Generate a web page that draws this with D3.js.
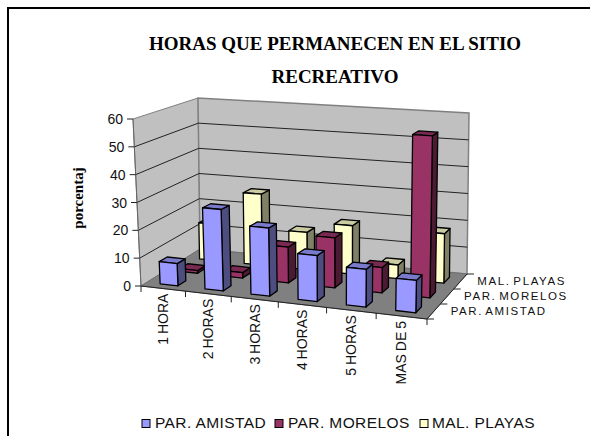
<!DOCTYPE html>
<html><head><meta charset="utf-8">
<style>html,body{margin:0;padding:0;background:#fff}svg{display:block}</style>
<script src="https://cdn.jsdelivr.net/npm/d3@7/dist/d3.min.js"></script>
</head><body><div id="c"></div>
<script>
const categories=["1 HORA","2 HORAS","3 HORAS","4 HORAS","5 HORAS","MAS DE 5"];
const seriesNames=["PAR. AMISTAD","PAR. MORELOS","MAL. PLAYAS"];
const amistad=[8,29,24,16,13,11];
const morelos=[1,2,13,18,9,57];
const playas=[14,27,14,18,5,18];
const seriesValues=[amistad,morelos,playas];
const yTicks=[0,10,20,30,40,50,60];
const palette=[
 {face:"#9999ff",side:"#4d4d80",top:"#7a7acc"},
 {face:"#993366",side:"#4d1a33",top:"#7a2952"},
 {face:"#ffffcc",side:"#808066",top:"#cccca3"}];
const W=590,H=436;
const svg=d3.select("#c").append("svg").attr("width",W).attr("height",H);
const FONT="'Liberation Sans',Arial,sans-serif",SERIF="'Liberation Serif','Times New Roman',serif";
const F={fl:[141,286],bl:[200,249],br:[467,274],fr:[427,319]};
const T={fl:[133,119],bl:[198,98],br:[469,113],fr:[431,140]};
const bil=(Q,u,v)=>[0,1].map(i=>(1-u)*(1-v)*Q.fl[i]+u*(1-v)*Q.fr[i]+u*v*Q.br[i]+(1-u)*v*Q.bl[i]);
const y=d3.scaleLinear().domain([0,60]).range([0,1]);
const xb=d3.scaleBand().domain(categories).range([0,1]).paddingInner(0.6).paddingOuter(0.3);
const zb=d3.scaleBand().domain(seriesNames).range([0,1]).paddingInner(0.6).paddingOuter(0.3);
const xo=d3.scaleBand().domain(categories).range([0,1]);
const zo=d3.scaleBand().domain(seriesNames).range([0,1]);
function P(u,v,val){const a0=0.92+0.08*v,w=u*(a0+(1-a0)*u);const a=bil(F,w,v),b=bil(T,w,v),t=y(val);return [a[0]+(b[0]-a[0])*t,a[1]+(b[1]-a[1])*t];}
const line=pts=>"M"+pts.map(p=>p[0].toFixed(2)+","+p[1].toFixed(2)).join("L")+"Z";
svg.append("path").attr("d",`M8,${H}V8H${W}`).attr("fill","none").attr("stroke","#000").attr("stroke-width",2);
[["HORAS QUE PERMANECEN EN EL SITIO",50],["RECREATIVO",83]].forEach(t=>{
 svg.append("text").attr("x",335).attr("y",t[1]).attr("text-anchor","middle").attr("font-family",SERIF).attr("font-weight","bold").attr("font-size",19).text(t[0]);});
svg.append("text").attr("transform","translate(83,198) rotate(-90)").attr("text-anchor","middle").attr("font-family",SERIF).attr("font-weight","bold").attr("font-size",15).text("porcentaj");
svg.append("path").attr("d",line([P(0,0,0),P(0,1,0),P(0,1,60),P(0,0,60)])).attr("fill","#c0c0c0").attr("stroke","#808080");
svg.append("path").attr("d",line([P(0,1,0),P(1,1,0),P(1,1,60),P(0,1,60)])).attr("fill","#c0c0c0").attr("stroke","#808080").attr("stroke-width",1.5);
svg.append("path").attr("d",line([P(0,0,0),P(1,0,0),P(1,1,0),P(0,1,0)])).attr("fill","#808080").attr("stroke","#707070");
yTicks.filter(d=>d>0&&d<60).forEach(d=>{
 svg.append("path").attr("d",`M${P(0,0,d)}L${P(0,1,d)}L${P(1,1,d)}`).attr("fill","none").attr("stroke","#222").attr("stroke-width",1);
});
svg.append("path").attr("d",`M${P(0,0,0)}L${P(0,0,60)}`).attr("stroke","#666").attr("stroke-width",1);
yTicks.forEach(d=>{const p=P(0,0,d);
 svg.append("path").attr("d",`M${p}l-6,0`).attr("stroke","#222");
 svg.append("text").attr("x",p[0]-10).attr("y",p[1]+5).attr("text-anchor","end").attr("font-family",FONT).attr("font-size",14).attr("fill","#111").text(d);
});
svg.append("path").attr("d",`M${P(0,0,0)}L${P(1,0,0)}`).attr("stroke","#222");
d3.range(categories.length+1).forEach(i=>{const p=P(i/categories.length,0,0);
 svg.append("path").attr("d",`M${p}l0,6`).attr("stroke","#222");});
categories.forEach(c=>{const p=P(xo(c)+xo.bandwidth()/2,0,0);
 svg.append("text").attr("transform",`translate(${p[0]+5},${p[1]+5}) rotate(-90)`).attr("text-anchor","end").attr("font-family",FONT).attr("font-size",14).attr("word-spacing",-1).attr("fill","#111").text(c);});
svg.append("path").attr("d",`M${P(1,0,0)}L${P(1,1,0)}`).attr("stroke","#222");
d3.range(seriesNames.length+1).forEach(i=>{const p=P(1,i/seriesNames.length,0);
 svg.append("path").attr("d",`M${p}l7,0`).attr("stroke","#222");});
seriesNames.forEach(s=>{const p=P(1,zo(s)+zo.bandwidth()/2,0);
 svg.append("text").attr("x",p[0]+17).attr("y",p[1]+3).attr("font-family",FONT).attr("font-size",11.5).attr("letter-spacing",1.6).attr("word-spacing",-2).attr("fill","#111").text(s);});
[2,1,0].forEach(si=>{
 const s=seriesNames[si],c=palette[si];
 categories.forEach((cat,ci)=>{
  const v=seriesValues[si][ci],u0=xb(cat),u1=u0+xb.bandwidth(),v0=zb(s),v1=v0+zb.bandwidth();
  const g=svg.append("g").attr("stroke","#000").attr("stroke-width",1.3).attr("stroke-linejoin","round");
  g.append("path").attr("d",line([P(u1,v0,0),P(u1,v1,0),P(u1,v1,v),P(u1,v0,v)])).attr("fill",c.side);
  g.append("path").attr("d",line([P(u0,v0,v),P(u1,v0,v),P(u1,v1,v),P(u0,v1,v)])).attr("fill",c.top);
  g.append("path").attr("d",line([P(u0,v0,0),P(u1,v0,0),P(u1,v0,v),P(u0,v0,v)])).attr("fill",c.face);
 });
});
const lx=[142,275,420],tx=[155,288,432];
seriesNames.forEach((s,i)=>{
 svg.append("rect").attr("x",lx[i]).attr("y",419.5).attr("width",8).attr("height",8).attr("fill",palette[i].face).attr("stroke","#000");
 svg.append("text").attr("x",tx[i]).attr("y",428).attr("font-family",FONT).attr("font-size",15.5).attr("letter-spacing",0.4).attr("fill","#111").text(s);
});
</script></body></html>
